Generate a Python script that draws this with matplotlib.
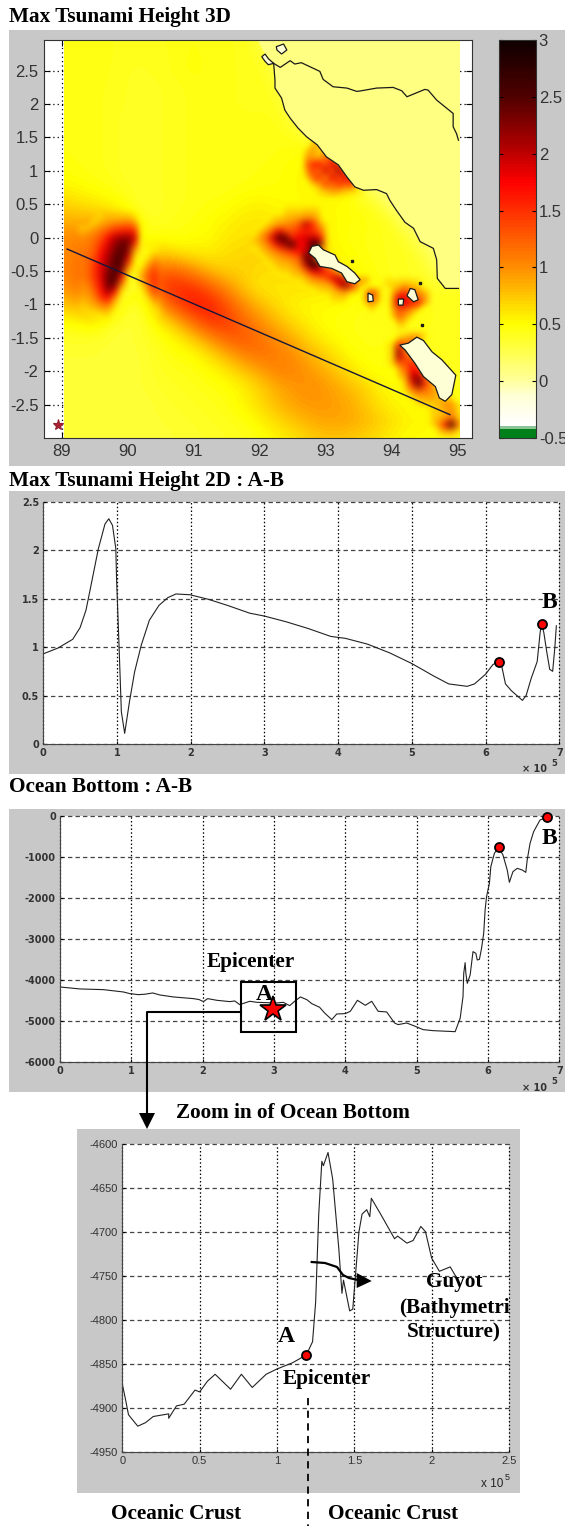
import numpy as np
import matplotlib
matplotlib.use('Agg')
import matplotlib.pyplot as plt
from matplotlib.colors import LinearSegmentedColormap, Normalize
from matplotlib.patches import Rectangle, Polygon

plt.rcParams['axes.unicode_minus'] = False

# max tsunami height, nodes every 0.25 deg, top row lat 3, left column lon 89
map_lon = np.arange(89, 95.01, 0.25)
map_lat = np.arange(3, -3.01, -0.25)
map_height = np.array([
    [.45,.45,.45,.43,.42,.42,.43,.44,.46,.44,.44,.42,.30,.10,.10,.10,.10,.10,.10,.10,.10,.10,.10,.10,.10],
    [.45,.45,.45,.43,.42,.40,.42,.44,.47,.44,.44,.42,.40,.12,.10,.10,.10,.10,.10,.10,.10,.10,.10,.10,.10],
    [.45,.45,.45,.43,.40,.40,.42,.44,.48,.44,.44,.42,.42,.30,.10,.10,.10,.10,.10,.10,.10,.10,.10,.10,.10],
    [.45,.45,.44,.42,.40,.38,.40,.42,.44,.44,.44,.42,.42,.38,.10,.10,.10,.10,.10,.10,.10,.10,.10,.10,.10],
    [.45,.45,.44,.42,.40,.38,.40,.42,.44,.44,.44,.42,.42,.42,.20,.10,.10,.10,.10,.10,.10,.10,.10,.10,.10],
    [.45,.45,.44,.42,.38,.38,.40,.42,.44,.44,.44,.44,.44,.44,.35,.10,.10,.10,.10,.10,.10,.10,.10,.10,.10],
    [.45,.45,.44,.42,.38,.38,.40,.42,.44,.44,.44,.44,.44,.44,.44,.35,.10,.10,.10,.10,.10,.10,.10,.10,.10],
    [.46,.45,.44,.42,.38,.38,.40,.42,.44,.44,.44,.44,.44,.46,.48,.50,.40,.10,.10,.10,.10,.10,.10,.10,.10],
    [.48,.46,.44,.42,.38,.38,.40,.42,.44,.44,.44,.44,.46,.48,.50,.55,.55,.50,.10,.10,.10,.10,.10,.10,.10],
    [.55,.52,.48,.45,.40,.38,.40,.42,.44,.44,.44,.46,.48,.48,.50,.55,.60,.60,.35,.10,.10,.10,.10,.10,.10],
    [.70,.65,.60,.55,.45,.36,.40,.42,.44,.46,.48,.54,.56,.52,.50,.50,.50,.50,.45,.40,.12,.10,.10,.10,.10],
    [.85,.85,.85,.80,.65,.40,.40,.44,.46,.50,.55,.60,.60,.60,.60,.60,.55,.50,.48,.45,.40,.12,.10,.10,.10],
    [1.0,1.05,1.1,1.1,.90,.45,.50,.45,.50,.52,.60,.62,.65,.65,.65,.62,.55,.48,.46,.44,.42,.36,.12,.10,.10],
    [1.0,1.1,1.2,1.3,1.0,.55,.75,.65,.60,.58,.65,.68,.70,.70,.65,.65,.60,.52,.48,.44,.42,.42,.30,.10,.10],
    [1.05,1.15,1.3,1.3,.90,.80,1.25,1.2,1.0,.80,.70,.70,.65,.65,.65,.65,.60,.55,.50,.46,.42,.40,.38,.20,.10],
    [.95,1.1,1.3,1.2,.50,.60,1.45,1.55,1.5,1.25,1.0,.75,.60,.60,.62,.62,.60,.58,.55,.48,.44,.42,.40,.40,.42],
    [.75,.85,.95,.70,.35,.40,1.0,1.4,1.65,1.6,1.3,1.0,.80,.65,.55,.52,.52,.50,.46,.45,.45,.46,.44,.42,.42],
    [.50,.55,.60,.40,.33,.38,.60,.85,1.2,1.5,1.45,1.2,1.0,.80,.65,.55,.48,.46,.45,.44,.46,.46,.44,.42,.42],
    [.38,.38,.38,.34,.33,.38,.45,.55,.75,1.0,1.25,1.3,1.15,1.0,.85,.65,.55,.48,.45,.44,.46,.44,.42,.42,.42],
    [.35,.35,.35,.33,.33,.35,.42,.48,.50,.65,.85,1.05,1.15,1.1,1.0,.85,.70,.55,.48,.46,.48,.50,.42,.42,.42],
    [.33,.33,.33,.33,.33,.35,.40,.42,.45,.50,.60,.75,.90,1.05,1.05,.95,.85,.70,.55,.48,.48,.50,.50,.42,.42],
    [.33,.33,.33,.33,.33,.35,.38,.40,.42,.45,.48,.55,.70,.85,.95,1.0,.95,.85,.75,.60,.50,.55,.55,.45,.42],
    [.33,.33,.33,.33,.33,.33,.36,.38,.40,.42,.45,.55,.65,.80,.90,.95,.95,.90,.80,.65,.55,.50,.50,.50,.45],
    [.33,.33,.33,.33,.33,.33,.35,.36,.38,.40,.42,.45,.55,.65,.75,.85,.90,.90,.85,.75,.65,.55,.55,.50,.45],
    [.33,.33,.33,.33,.33,.33,.33,.35,.36,.38,.40,.42,.45,.55,.60,.70,.75,.75,.70,.65,.55,.50,.50,.45,.42],
])

# finer 0.1 deg detail, 0 = nothing read there
blob_lon0, blob_lat0 = 89.3, .3
blob_height = [
    [0,0,0,.75,.8,.8,.8,.8,.7,0,0,0],
    [0,0,.8,.9,1.0,1.1,1.1,1.2,1.0,.5,0,0],
    [.8,.9,1.0,1.15,1.3,1.5,1.6,1.6,1.5,.5,0,0],
    [1.0,1.05,1.15,1.35,1.7,2.0,2.1,2.2,1.9,.5,0,0],
    [1.05,1.1,1.25,1.5,1.9,2.2,2.4,2.3,1.5,.45,0,0],
    [1.1,1.15,1.3,1.7,2.0,2.3,2.5,2.2,.9,.45,.5,.6],
    [1.1,1.2,1.4,1.8,2.1,2.45,2.5,1.9,.6,.45,.6,.9],
    [1.1,1.2,1.5,1.85,2.2,2.5,2.4,1.4,.5,.5,.9,1.2],
    [1.1,1.2,1.55,1.9,2.3,2.5,2.2,.8,.45,.75,1.2,1.4],
    [1.1,1.2,1.5,1.9,2.4,2.5,1.7,.5,.4,.9,1.3,1.5],
    [1.0,1.1,1.4,1.85,2.4,2.3,1.1,.45,.4,.7,1.2,1.5],
    [.95,1.0,1.3,1.7,2.2,1.7,.6,.4,.4,.5,1.0,1.4],
    [.85,.9,1.1,1.5,1.7,1.0,.45,.4,0,.4,.7,1.1],
    [.75,.8,.9,1.1,1.15,.7,.4,0,0,0,.5,.8],
    [0,.7,.7,.8,.8,.5,.4,0,0,0,0,.6],
    [0,0,0,.55,.55,.4,0,0,0,0,0,0],
]
stripes_lon0, stripes_lat0 = 92.6, 1.4
stripes_height = [
    [0,0,.8,.9,0,0,0,0,0,0],
    [0,.7,1.0,.6,1.0,0,0,0,0,0],
    [0,.9,.9,.8,1.2,1.4,0,0,0,0],
    [0,1.1,1.5,1.7,1.2,1.8,1.9,0,0,0],
    [0,.9,1.4,1.1,1.9,1.2,2.1,1.6,0,0],
    [0,.7,1.2,1.5,1.0,1.8,1.3,1.8,1.5,0],
    [0,0,.8,.9,1.4,1.1,1.5,1.2,1.6,0],
    [0,0,0,.7,.8,1.0,.9,.8,.7,.6],
]
simeulue_lon0, simeulue_lat0 = 91.9, .4
simeulue_height = [
    [0,0,0,0,0,.7,.7,.7,.75,.75,.7,0,0,0,0,0,0,0],
    [0,0,0,.7,.75,.8,.85,.9,1.0,1.0,.8,0,0,0,0,0,0,0],
    [0,0,.7,.8,.9,1.0,1.1,1.3,2.0,1.6,1.0,.7,0,0,0,0,0,0],
    [0,.75,.9,1.3,1.8,1.4,1.3,1.5,1.6,1.5,1.3,.8,0,0,0,0,0,0],
    [.7,.9,1.2,1.9,2.5,2.4,1.6,1.8,1.9,2.0,1.8,1.0,0,0,0,0,0,0],
    [.7,.8,1.0,1.4,1.9,2.2,2.6,1.7,1.8,2.7,2.6,1.0,0,0,0,0,0,0],
    [0,.7,.85,1.0,1.2,1.4,1.6,1.7,2.0,2.3,.9,.9,0,0,0,0,0,0],
    [0,0,.7,.8,.9,1.0,1.1,1.3,2.4,2.2,.9,.8,.7,0,0,0,0,0],
    [0,0,0,.7,.8,.8,.9,1.1,2.0,2.9,2.3,1.0,.9,.8,0,0,0,0],
    [0,0,0,0,.7,.7,.8,.85,1.2,1.8,1.9,1.6,1.2,.8,.7,0,0,0],
    [0,0,0,0,0,0,.7,.7,.8,1.0,1.2,1.3,1.8,2.0,1.4,.9,.8,.85],
    [0,0,0,0,0,0,0,0,.7,.8,.8,.85,1.0,1.8,2.3,1.6,.9,.8],
    [0,0,0,0,0,0,0,0,0,0,.7,.7,.75,.9,1.1,.9,.7,0],
    [0,0,0,0,0,0,0,0,0,0,0,0,.7,.7,.7,0,0,0],
]
islets_lon0, islets_lat0 = 93.5, -.7
islets_height = [
    [0,0,0,0,.7,.7,.7,.8,.7,.7,0],
    [0,.8,1.2,.8,0,.7,1.0,1.3,1.0,.9,.7],
    [0,1.0,1.4,.9,0,.9,1.8,1.8,1.2,1.2,1.0],
    [0,.8,1.0,.7,0,1.0,1.9,1.8,1.6,1.6,.9],
    [0,0,.7,0,0,.8,1.3,1.2,.9,.7,0],
    [0,0,0,0,0,.7,1.2,.9,.7,0,0],
    [0,0,0,0,0,0,.8,.7,0,0,0],
]
south_lon0, south_lat0 = 94.0, -1.5
south_height = [
    [0,.7,.8,1.0,1.0,.7,0,0,0,0,0],
    [.7,1.5,1.2,1.2,.9,0,0,0,0,0,0],
    [.7,2.1,1.1,.9,0,0,0,0,0,0,0],
    [.7,2.0,1.4,1.1,.9,0,0,0,0,0,0],
    [.7,1.2,1.3,1.6,1.2,.8,0,0,0,0,0],
    [0,.8,1.1,1.7,1.7,.9,0,0,0,0,0],
    [0,.7,.9,2.0,2.2,1.4,.8,0,0,0,0],
    [0,0,.8,1.5,2.4,1.5,1.0,.7,0,0,0],
    [0,0,.7,1.0,1.3,1.1,1.0,.8,.7,0,0],
    [0,0,0,.7,.8,.9,.9,.8,.75,.7,0],
    [0,0,0,0,.7,.7,.7,.8,1.0,1.0,.7],
    [0,0,0,0,0,0,.7,.7,.85,.95,.7],
    [0,0,0,0,0,0,.7,.8,.9,1.2,.8],
    [0,0,0,0,0,0,.7,.9,1.6,2.6,1.2],
    [0,0,0,0,0,0,0,.7,.9,1.0,.7],
]

coast_south_lon = [92.21,92.23,92.23,92.33,92.38,92.46,92.58,92.71,92.87,93.01,93.19,93.32,93.44,93.57,93.77,93.92,93.97,94.07,94.20,94.33,94.43,94.63,94.68,94.69,94.81,95.01]
coast_south_lat = [2.61,2.36,2.24,2.09,1.91,1.79,1.64,1.51,1.39,1.21,1.09,.91,.76,.71,.72,.66,.56,.41,.23,.14,-.06,-.16,-.33,-.61,-.76,-.76]
coast_north_lon = [92.21,92.31,92.46,92.53,92.63,92.91,92.96,93.11,93.32,93.47,93.54,93.77,94.02,94.15,94.23,94.50,94.55,94.68,94.93,94.93,94.98,95.01]
coast_north_lat = [2.61,2.55,2.65,2.60,2.62,2.49,2.37,2.26,2.24,2.19,2.20,2.24,2.25,2.20,2.11,2.22,2.21,2.06,1.86,1.66,1.56,1.46]

islands = [
    ([92.03,92.08,92.13,92.21,92.13,92.08], [2.71,2.75,2.68,2.61,2.59,2.64]),
    ([92.25,92.36,92.41,92.33,92.26], [2.86,2.90,2.81,2.75,2.81]),
    ([92.79,92.89,92.96,93.14,93.19,93.32,93.44,93.52,93.44,93.32,93.24,93.09,92.91,92.84,92.74],
     [-.13,-.11,-.18,-.26,-.36,-.43,-.53,-.63,-.69,-.66,-.53,-.46,-.43,-.31,-.23]),
    ([93.64,93.71,93.72,93.64], [-.83,-.86,-.95,-.96]),
    ([94.28,94.35,94.40,94.33,94.23], [-.76,-.78,-.93,-.96,-.87]),
    ([94.10,94.18,94.17,94.10], [-.92,-.92,-1.01,-1.01]),
    ([94.12,94.25,94.38,94.48,94.61,94.76,94.97,94.91,94.81,94.72,94.66,94.48,94.35,94.20],
     [-1.61,-1.58,-1.49,-1.54,-1.71,-1.83,-2.06,-2.35,-2.45,-2.40,-2.23,-2.08,-1.88,-1.68]),
]
reef_lon = [94.43, 93.39, 94.46]
reef_lat = [-.68, -.35, -1.31]
section_lon = [89.08, 94.88]
section_lat = [-.17, -2.65]
source_lon = [88.94]
source_lat = [-2.81]

# 2D profile of tsunami height along A-B, x in units of 1e5
height_x = [0,.2,.4,.5,.58,.635,.748,.838,.89,.94,.985,.995,1.03,1.06,1.105,1.17,1.24,1.33,1.44,1.57,1.69,1.80,1.99,2.24,2.5,2.8,3.0,3.3,3.6,3.9,4.1,4.4,4.7,5.0,5.3,5.5,5.6,5.75,5.85,6.0,6.1,6.18,6.22,6.27,6.35,6.5,6.55,6.62,6.7,6.74,6.76,6.79,6.83,6.87,6.91,6.94,6.96]
height_y = [.93,.99,1.08,1.2,1.38,1.586,2.015,2.27,2.324,2.255,2.015,1.706,.985,.333,.11,.436,.745,1.02,1.277,1.43,1.51,1.548,1.54,1.493,1.43,1.35,1.32,1.26,1.19,1.11,1.09,1.03,.94,.83,.7,.62,.61,.595,.62,.72,.82,.85,.8,.62,.55,.45,.5,.68,.85,1.15,1.24,1.15,.95,.77,.75,1.0,1.22]
height_dots_x = [6.18, 6.76]
height_dots_y = [.85, 1.24]

bottom_x = [0,.28,.61,.89,.98,1.1,1.19,1.3,1.4,1.59,1.87,1.95,2.01,2.07,2.2,2.38,2.45,2.52,2.66,2.76,3.04,3.13,3.22,3.29,3.37,3.46,3.53,3.64,3.71,3.81,3.88,4.0,4.07,4.17,4.28,4.37,4.46,4.58,4.69,4.74,4.86,4.98,5.09,5.23,5.54,5.61,5.65,5.66,5.68,5.69,5.71,5.75,5.79,5.83,5.85,5.88,5.91,5.94,5.96,5.98,6.02,6.04,6.09,6.15,6.21,6.27,6.30,6.35,6.41,6.48,6.53,6.55,6.59,6.64,6.73,6.83]
bottom_y = [-4163,-4211,-4228,-4285,-4325,-4350,-4340,-4309,-4358,-4406,-4447,-4470,-4520,-4447,-4488,-4520,-4504,-4593,-4512,-4537,-4553,-4537,-4618,-4512,-4406,-4472,-4569,-4659,-4797,-4959,-4821,-4813,-4756,-4488,-4610,-4512,-4756,-4772,-5041,-5081,-5041,-5122,-5203,-5228,-5253,-4927,-4399,-3830,-3570,-3830,-4074,-3871,-3301,-3342,-3505,-3489,-3220,-2854,-2285,-1960,-1635,-1228,-903,-757,-943,-1310,-1610,-1350,-1269,-1310,-1367,-1066,-659,-375,-90,-25]
bottom_dots_x = [6.15, 6.83]
bottom_dots_y = [-757, -25]
epicenter_x = [2.98]
epicenter_y = [-4699]

zoom_x = [0,.02,.04,.1,.15,.2,.3,.3,.35,.4,.47,.5,.55,.6,.7,.77,.84,.93,1.0,1.1,1.19,1.23,1.25,1.27,1.29,1.3,1.33,1.36,1.4,1.42,1.43,1.47,1.49,1.53,1.55,1.58,1.6,1.61,1.67,1.76,1.78,1.84,1.88,1.93,1.96,2.0,2.05,2.12,2.17]
zoom_y = [-4873,-4890,-4908,-4921,-4917,-4910,-4907,-4912,-4898,-4896,-4880,-4882,-4870,-4862,-4879,-4862,-4877,-4862,-4856,-4849,-4840,-4825,-4780,-4680,-4620,-4625,-4610,-4640,-4720,-4770,-4755,-4790,-4788,-4700,-4680,-4675,-4683,-4662,-4680,-4708,-4705,-4713,-4710,-4694,-4700,-4730,-4745,-4740,-4755]
zoom_dot_x = [1.19]
zoom_dot_y = [-4840]

W, H = 565, 1526
GRAY = '#c8c8c8'
SERIF = 'Liberation Serif'
SANS = 'Liberation Sans'
TEXT_SIZE = 15.3


def px_axes(left, top, right, bottom):
    return fig.add_axes([left / W, 1 - bottom / H, (right - left) / W, (bottom - top) / H], zorder=2)


def profile_axes(box, xlim, ylim, xticks, xlabels, yticks, font, size, weight='normal'):
    ax = px_axes(*box)
    ax.set_xlim(xlim)
    ax.set_ylim(ylim)
    ax.set_xticks(xticks, xlabels)
    ax.set_yticks(yticks, [str(t) for t in yticks])
    ax.spines['top'].set_visible(False)
    ax.spines['right'].set_visible(False)
    for s in ['left', 'bottom']:
        ax.spines[s].set_color('#444444')
    ax.tick_params(direction='in', length=2, labelsize=size, labelcolor='#333333', pad=3)
    for lab in ax.get_xticklabels() + ax.get_yticklabels():
        lab.set_family(font)
        lab.set_weight(weight)
    ax.xaxis.grid(True, color='black', lw=0.9, ls=(0, (1.2, 1.8)), clip_on=False)
    ax.yaxis.grid(True, color='#444444', lw=0.9, ls=(0, (3.5, 2.5)), clip_on=False)
    ax.set_axisbelow(True)
    return ax


def add_patch_image(ax, values, lon0, lat0, clip):
    # 0.1 deg detail laid over the coarse field, blank cells and the outer ring fade out
    v = np.array(values, dtype=float)
    shown = np.pad(v > 0, 1)
    v[v == 0] = .5
    v = np.pad(v, 1, mode='edge')
    rgba = cmap(norm(v))
    rgba[..., 3] = shown
    rows, cols = v.shape
    pim = ax.imshow(rgba, aspect='auto', interpolation='bicubic', interpolation_stage='rgba', zorder=2,
                    extent=[lon0 - .15, lon0 - .15 + cols * .1, lat0 + .15 - rows * .1, lat0 + .15])
    pim.set_clip_path(clip)


fig = plt.figure(figsize=(W / 100, H / 100), dpi=100, facecolor='white')

bg = fig.add_axes([0, 0, 1, 1], zorder=0)
bg.set_xlim(0, W)
bg.set_ylim(H, 0)
bg.axis('off')
for x0, y0, x1, y1 in [(9, 30, 565, 466), (9, 491, 565, 774), (9, 809, 565, 1092), (77, 1129, 520, 1493)]:
    bg.add_patch(Rectangle((x0, y0), x1 - x0, y1 - y0, fc=GRAY, ec='none'))

# --- 3D map ---
cmap = LinearSegmentedColormap.from_list('tsunami', [
    (0.0, (0, .5, .1)), (0.016, (0, .5, .1)), (0.03, (1, 1, 1)), (0.10, (1, 1, .85)),
    (0.143, (1, 1, .6)), (2 / 7, (1, 1, 0)), (3 / 7, (1, .55, 0)), (0.643, (1, 0, 0)),
    (5 / 7, (.75, 0, 0)), (6 / 7, (.32, 0, 0)), (1.0, (.06, 0, 0))], N=128)
norm = Normalize(-0.5, 3)

ax1 = px_axes(44, 40, 472.3, 438)
im = ax1.imshow(map_height, cmap=cmap, norm=norm, aspect='auto', interpolation='bicubic', zorder=1,
                extent=[map_lon[0] - .125, map_lon[-1] + .125, map_lat[-1] - .125, map_lat[0] + .125])
data_clip = Rectangle((89.03, -3.0), 6.0, 5.96, transform=ax1.transData)
im.set_clip_path(data_clip)
add_patch_image(ax1, blob_height, blob_lon0, blob_lat0, data_clip)
add_patch_image(ax1, stripes_height, stripes_lon0, stripes_lat0, data_clip)
add_patch_image(ax1, simeulue_height, simeulue_lon0, simeulue_lat0, data_clip)
add_patch_image(ax1, islets_height, islets_lon0, islets_lat0, data_clip)
add_patch_image(ax1, south_height, south_lon0, south_lat0, data_clip)
ax1.set_xlim(88.73, 95.22)
ax1.set_ylim(-3.0, 2.96)

land = cmap(norm(.08))
land_lon = coast_south_lon + [95.03, 95.03, 91.97, 92.08]
land_lat = coast_south_lat + [-.76, 2.96, 2.96, 2.75]
ax1.add_patch(Polygon(np.column_stack([land_lon, land_lat]), fc=land, ec='none', zorder=4))
ax1.plot(coast_south_lon, coast_south_lat, color='#1a1a1a', lw=.9, zorder=6)
ax1.plot(coast_north_lon, coast_north_lat, color='#1a1a1a', lw=.9, zorder=6)
for ilon, ilat in islands:
    ax1.add_patch(Polygon(np.column_stack([ilon, ilat]), fc=cmap(norm(-.12)), ec='#1a1a1a', lw=.9, zorder=5))
ax1.plot(reef_lon, reef_lat, 's', ms=1.8, color='#1a1a1a', ls='none', zorder=6)
ax1.plot(section_lon, section_lat, color='#15153a', lw=1, zorder=7)
ax1.plot(source_lon, source_lat, marker='*', ms=8, color='#b02030', mew=.8, mec='#902030', zorder=7)

ax1.set_xticks(range(89, 96))
ax1.set_yticks(np.arange(-2.5, 2.6, .5), ['-2.5', '-2', '-1.5', '-1', '-0.5', '0', '0.5', '1', '1.5', '2', '2.5'])
ax1.tick_params(direction='in', length=4, top=True, right=True, labelsize=12, labelcolor='#333333', pad=4)
for lab in ax1.get_xticklabels() + ax1.get_yticklabels():
    lab.set_family(SANS)
ax1.grid(True, color='black', lw=.9, ls=(0, (1, 2.5)))
ax1.set_axisbelow(True)
for s in ax1.spines.values():
    s.set_color('#333333')
    s.set_zorder(8)

cax = px_axes(499, 40, 536, 438)
cb = fig.colorbar(im, cax=cax, ticks=[-.5, 0, .5, 1, 1.5, 2, 2.5, 3])
cb.ax.set_yticklabels(['-0.5', '0', '0.5', '1', '1.5', '2', '2.5', '3'], family=SANS, fontsize=12, color='#333333')
cb.ax.tick_params(direction='in', length=3, left=True, right=True, pad=2)
cb.outline.set_edgecolor('#333333')

# --- 2D height ---
ax2 = profile_axes((43.2, 501.7, 559.3, 744), (0, 7), (0, 2.5), range(8), [str(i) for i in range(8)],
                   [0, .5, 1, 1.5, 2, 2.5], 'DejaVu Sans', 7, 'bold')
ax2.plot(height_x, height_y, color='#222222', lw=.8)
ax2.plot(height_dots_x, height_dots_y, 'o', color='red', mec='black', mew=1.3, ms=6.5, ls='none', clip_on=False)

# --- ocean bottom ---
ax3 = profile_axes((60, 816.3, 559.3, 1062.3), (0, 7), (-6000, 0), range(8), [str(i) for i in range(8)],
                   [-6000, -5000, -4000, -3000, -2000, -1000, 0], 'DejaVu Sans', 7, 'bold')
ax3.plot(bottom_x, bottom_y, color='#222222', lw=.8)
ax3.plot(bottom_dots_x, bottom_dots_y, 'o', color='red', mec='black', mew=1.3, ms=6.5, ls='none', clip_on=False)
ax3.plot(epicenter_x, epicenter_y, '*', color='red', mec='black', mew=1.2, ms=19, ls='none', zorder=5)

# --- zoom ---
ax4 = profile_axes((122.3, 1143.7, 509, 1451.7), (0, 2.5), (-4950, -4600), [0, .5, 1, 1.5, 2, 2.5],
                   ['0', '0.5', '1', '1.5', '2', '2.5'], [-4950, -4900, -4850, -4800, -4750, -4700, -4650, -4600],
                   SANS, 8)
ax4.plot(zoom_x, zoom_y, color='#222222', lw=.8)
ax4.plot(zoom_dot_x, zoom_dot_y, 'o', color='red', mec='black', mew=1.3, ms=6.5, ls='none')

# overlay in picture pixels for titles and callouts
fg = fig.add_axes([0, 0, 1, 1], zorder=5)
fg.set_xlim(0, W)
fg.set_ylim(H, 0)
fg.axis('off')


def label(x, y, s, size=TEXT_SIZE, ha='center'):
    fg.text(x, y, s, family=SERIF, weight='bold', fontsize=size, ha=ha, va='center', color='black')


label(9, 17, 'Max Tsunami Height 3D', ha='left')
label(9, 481, 'Max Tsunami Height 2D : A-B', ha='left')
label(9, 787, 'Ocean Bottom : A-B', ha='left')
label(293, 1113, 'Zoom in of Ocean Bottom')
label(549.5, 603, 'B', 17)
label(251, 962, 'Epicenter')
label(264, 995, 'A', 17)
label(549.5, 838, 'B', 17)
label(286, 1336.5, 'A', 17)
label(326.7, 1379, 'Epicenter')
label(454, 1282, 'Guyot')
label(454, 1307.5, '(Bathymetri')
label(454, 1332, 'Structure)')
label(176, 1514, 'Oceanic Crust')
label(392.7, 1514, 'Oceanic Crust')

for y in (769, 1088):
    fg.text(535, y, '× 10', family='DejaVu Sans', weight='bold', fontsize=7, ha='center', va='center', color='#333333')
    fg.text(554, y - 6, '5', family='DejaVu Sans', weight='bold', fontsize=6, ha='center', va='center', color='#333333')
fg.text(491.7, 1484, 'x 10', family=SANS, fontsize=8.5, ha='center', va='center', color='#222222')
fg.text(506.7, 1477, '5', family=SANS, fontsize=6.5, ha='center', va='center', color='#222222')

fg.add_patch(Rectangle((240.7, 982), 54.8, 49.7, fc='none', ec='black', lw=1.5))
fg.plot([240.7, 147, 147], [1012, 1012, 1114], color='black', lw=1.5)
fg.add_patch(Polygon([(139, 1113), (155, 1113), (147, 1129)], fc='black', ec='none'))
fg.plot([308.3, 308.3], [1397.7, 1526], color='black', lw=1.3, ls=(0, (4, 3)))
fg.plot([311.7, 325, 337, 343, 349, 358], [1262, 1263, 1267, 1275, 1278, 1280], color='black', lw=1.6)
fg.add_patch(Polygon([(356.7, 1273), (371.7, 1281), (356.7, 1288)], fc='black', ec='none'))

fig.savefig('out.png', dpi=100, facecolor='white')
